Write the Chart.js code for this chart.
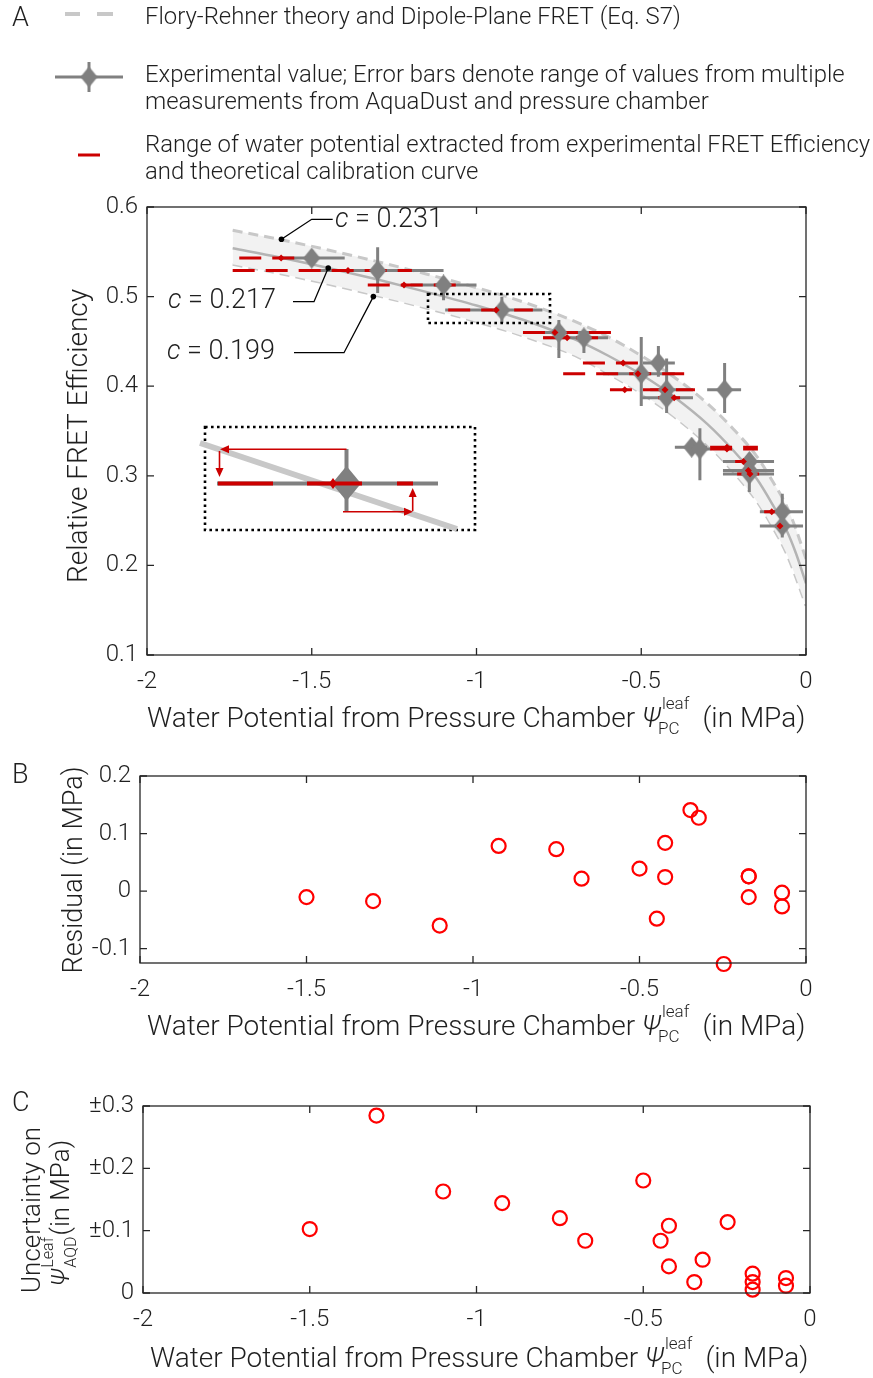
<!DOCTYPE html>
<html>
<head>
<meta charset="utf-8">
<script src="https://cdn.jsdelivr.net/npm/chart.js@4.4.1/dist/chart.umd.min.js"></script>
<style>
  body { margin: 0; background: #fff; width: 873px; height: 1378px; position: relative; overflow: hidden; }
  canvas { position: absolute; left: 0; top: 0; }
</style>
</head>
<body>
<canvas id="chartA" width="873" height="1378"></canvas>
<canvas id="chartB" width="873" height="1378"></canvas>
<canvas id="chartC" width="873" height="1378"></canvas>
<script>
// ---- data ----
const xTickVals = [-2, -1.5, -1, -0.5, 0];
const xTickLabels = ['-2', '-1.5', '-1', '-0.5', '0'];
const fretTickVals = [0.1, 0.2, 0.3, 0.4, 0.5, 0.6];
const fretTickLabels = ['0.1', '0.2', '0.3', '0.4', '0.5', '0.6'];
const resTickVals = [-0.1, 0, 0.1, 0.2];
const resTickLabels = ['-0.1', '0', '0.1', '0.2'];
const uncTickVals = [0, 0.1, 0.2, 0.3];
const uncTickLabels = ['0', '±0.1', '±0.2', '±0.3'];

// pressure chamber water potential (MPa), one entry per measurement
const psiPC = [-1.5, -1.3, -1.1, -0.923, -0.75, -0.674, -0.5, -0.448, -0.423, -0.423, -0.347, -0.322, -0.247, -0.172, -0.172, -0.172, -0.072, -0.072];
const fretExp = [0.543, 0.529, 0.513, 0.485, 0.460, 0.454, 0.414, 0.426, 0.396, 0.387, 0.332, 0.330, 0.396, 0.316, 0.306, 0.302, 0.260, 0.244];
const psiErrLo = [-1.6, -1.5, -1.2, -1.095, -0.85, -0.798, -0.616, -0.495, -0.473, -0.498, -0.398, -0.36, -0.300, -0.252, -0.252, -0.252, -0.14, -0.14];
const psiErrHi = [-1.4, -1.1, -1.0, -0.80, -0.65, -0.601, -0.398, -0.398, -0.343, -0.343, -0.30, -0.29, -0.197, -0.097, -0.097, -0.097, -0.009, -0.009];
const fretErrLo = [0.537, 0.504, 0.496, 0.4705, 0.4315, 0.437, 0.378, 0.4106, 0.370, 0.370, 0.325, 0.295, 0.370, 0.282, 0.282, 0.282, 0.231, 0.231];
const fretErrHi = [0.552, 0.555, 0.521, 0.4996, 0.474, 0.4625, 0.455, 0.4449, 0.431, 0.431, 0.338, 0.353, 0.426, 0.325, 0.325, 0.325, 0.280, 0.280];

// range of water potential extracted from FRET + calibration curve
const psiExtLo = [-1.72, -1.74, -1.33, -1.086, -0.859, -0.798, -0.737, -0.677, -0.595, -0.449, -0.291, -0.291, -0.595, -0.215, -0.191, -0.209, -0.127, -0.094];
const psiExtHi = [-1.505, -1.196, -1.05, -0.829, -0.589, -0.625, -0.361, -0.483, -0.337, -0.352, -0.146, -0.146, -0.337, -0.175, -0.155, -0.124, -0.058, -0.055];
const psiExt = [-1.593, -1.39, -1.22, -0.94, -0.762, -0.725, -0.51, -0.555, -0.428, -0.40, -0.24, -0.24, -0.55, -0.19, -0.175, -0.17, -0.104, -0.079];

// theory curves (c = 0.231 / 0.217 / 0.199)
const theoryX = [-1.74, -1.6, -1.45, -1.3, -1.15, -1.0, -0.85, -0.7, -0.6, -0.5, -0.4, -0.3, -0.22, -0.15, -0.1, -0.06, -0.03, 0];
const theoryHi = [0.574, 0.564, 0.552, 0.539, 0.525, 0.510, 0.493, 0.472, 0.455, 0.434, 0.410, 0.381, 0.352, 0.322, 0.293, 0.267, 0.240, 0.207];
const theoryMid = [0.554, 0.544, 0.532, 0.519, 0.505, 0.490, 0.473, 0.452, 0.434, 0.413, 0.388, 0.358, 0.328, 0.297, 0.267, 0.240, 0.213, 0.180];
const theoryLo = [0.536, 0.526, 0.514, 0.501, 0.487, 0.472, 0.455, 0.434, 0.414, 0.392, 0.366, 0.335, 0.304, 0.272, 0.242, 0.214, 0.186, 0.155];

const residual = [-0.0105, -0.0175, -0.060, 0.0785, 0.0728, 0.0216, 0.039, -0.048, 0.0838, 0.0244, 0.1408, 0.1274, -0.1267, 0.0257, 0.0257, -0.0105, -0.0028, -0.0267];
const uncertainty = [0.1026, 0.2846, 0.1628, 0.1442, 0.120, 0.0838, 0.1805, 0.0838, 0.1079, 0.0427, 0.0176, 0.0534, 0.1138, 0.031, 0.0176, 0.0053, 0.024, 0.0117];

// ---- styling ----
const FF = "Roboto, 'Liberation Sans', Arial, sans-serif";
const TXT = '#1f1f1f';
const GRAY = '#808080';
const DARKRED = '#cc0000';
Chart.defaults.font.family = FF;
Chart.defaults.font.weight = 300;
Chart.defaults.color = TXT;
Chart.defaults.animation = false;

function diamond(w, h, color) {
  const c = document.createElement('canvas');
  c.width = w; c.height = h;
  const g = c.getContext('2d');
  g.fillStyle = color;
  g.beginPath();
  g.moveTo(w / 2, 0); g.lineTo(w, h / 2); g.lineTo(w / 2, h); g.lineTo(0, h / 2);
  g.closePath(); g.fill();
  return c;
}
const diamondImg = diamond(17, 21, GRAY);

function xy(xs, ys) { return xs.map((x, i) => ({ x: x, y: ys[i] })); }

const hBars = [], vBars = [], extBars = [];
psiPC.forEach((x, i) => {
  hBars.push({ x: psiErrLo[i], y: fretExp[i] }, { x: psiErrHi[i], y: fretExp[i] }, { x: psiErrHi[i], y: null });
  vBars.push({ x: x, y: fretErrLo[i] }, { x: x, y: fretErrHi[i] }, { x: x, y: null });
  extBars.push({ x: psiExtLo[i], y: fretExp[i] }, { x: psiExtHi[i], y: fretExp[i] }, { x: psiExtHi[i], y: null });
});

// fixed plot boxes (page pixels)
function boxLayout(left, top, right, bottom) {
  return {
    padding: { left: 0, top: top, right: 873 - right, bottom: 0 },
    yW: left, xH: 1378 - bottom
  };
}

function xScale(L) {
  return {
    type: 'linear', min: -2, max: 0,
    afterBuildTicks: s => { s.ticks = xTickVals.map(v => ({ value: v })); },
    afterFit: s => { s.height = L.xH; },
    grid: { display: false, drawTicks: false },
    border: { display: false },
    ticks: { font: { size: 24 }, padding: 13, color: TXT, maxRotation: 0,
             callback: (v, i) => xTickLabels[i] }
  };
}
function yScale(L, min, max, vals, labels) {
  return {
    type: 'linear', min: min, max: max,
    afterBuildTicks: s => { s.ticks = vals.map(v => ({ value: v })); },
    afterFit: s => { s.width = L.yW; },
    grid: { display: false, drawTicks: false },
    border: { display: false },
    ticks: { font: { size: 24 }, padding: 9, color: TXT, callback: (v, i) => labels[i] }
  };
}

// frame with inward ticks on all four sides
const framePlugin = {
  id: 'frame',
  afterDraw(chart) {
    const { ctx, chartArea: a, scales } = chart;
    ctx.save();
    ctx.strokeStyle = '#262626';
    ctx.lineWidth = 1.3;
    ctx.strokeRect(a.left, a.top, a.right - a.left, a.bottom - a.top);
    const tl = 7;
    ctx.beginPath();
    scales.x.ticks.forEach(t => {
      const px = scales.x.getPixelForValue(t.value);
      ctx.moveTo(px, a.bottom); ctx.lineTo(px, a.bottom - tl);
      ctx.moveTo(px, a.top); ctx.lineTo(px, a.top + tl);
    });
    scales.y.ticks.forEach(t => {
      const py = scales.y.getPixelForValue(t.value);
      ctx.moveTo(a.left, py); ctx.lineTo(a.left + tl, py);
      ctx.moveTo(a.right, py); ctx.lineTo(a.right - tl, py);
    });
    ctx.stroke();
    ctx.restore();
  }
};

function font(size, italic) { return (italic ? 'italic ' : '') + '300 ' + size + 'px ' + FF; }

// rich text: parts {t, size, italic, dy, dx, adv, gap}
function rich(ctx, parts, x, y, align) {
  let total = 0;
  const widths = parts.map(p => { ctx.font = font(p.size, p.italic); return ctx.measureText(p.t).width; });
  parts.forEach((p, i) => { if (p.adv !== false) total += widths[i] + (p.gap || 0); });
  let cx = align === 'center' ? x - total / 2 : x;
  ctx.textBaseline = 'middle';
  ctx.textAlign = 'left';
  parts.forEach((p, i) => {
    ctx.font = font(p.size, p.italic);
    ctx.fillText(p.t, cx + (p.dx || 0), y + (p.dy || 0));
    if (p.adv !== false) cx += widths[i] + (p.gap || 0);
  });
}

function xTitle(ctx, x, y) {
  ctx.fillStyle = TXT;
  rich(ctx, [
    { t: 'Water Potential from Pressure Chamber ', size: 28 },
    { t: 'Ψ', size: 28, italic: true, gap: 1 },
    { t: 'leaf', size: 17, dy: -15, adv: false },
    { t: 'PC', size: 17, dy: 10, dx: -4, gap: 19 },
    { t: '(in MPa)', size: 28 }
  ], x, y, 'left');
}

function line(ctx, pts, color, w, dash) {
  ctx.save();
  ctx.strokeStyle = color; ctx.lineWidth = w;
  ctx.setLineDash(dash || []);
  ctx.beginPath();
  pts.forEach((p, i) => i ? ctx.lineTo(p[0], p[1]) : ctx.moveTo(p[0], p[1]));
  ctx.stroke();
  ctx.restore();
}
function arrowHead(ctx, x, y, dir, color) {
  const L = 9, W = 4;
  ctx.save(); ctx.fillStyle = color; ctx.beginPath();
  if (dir === 'left') { ctx.moveTo(x, y); ctx.lineTo(x + L, y - W); ctx.lineTo(x + L, y + W); }
  if (dir === 'right') { ctx.moveTo(x, y); ctx.lineTo(x - L, y - W); ctx.lineTo(x - L, y + W); }
  if (dir === 'down') { ctx.moveTo(x, y); ctx.lineTo(x - W, y - L); ctx.lineTo(x + W, y - L); }
  if (dir === 'up') { ctx.moveTo(x, y); ctx.lineTo(x - W, y + L); ctx.lineTo(x + W, y + L); }
  ctx.closePath(); ctx.fill(); ctx.restore();
}

// legend, labels and inset of panel A
const decorA = {
  id: 'decorA',
  afterDraw(chart) {
    const { ctx, scales } = chart;
    const sx = scales.x, sy = scales.y;
    ctx.save();
    ctx.fillStyle = TXT;
    ctx.textBaseline = 'middle';
    ctx.font = font(27);
    ctx.fillText('A', 12, 19);

    // legend
    line(ctx, [[65, 14], [80, 14]], '#c8c8c8', 4);
    line(ctx, [[97, 14], [113, 14]], '#c8c8c8', 4);
    line(ctx, [[55, 77], [123, 77]], GRAY, 3);
    line(ctx, [[89, 62], [89, 92]], GRAY, 3);
    ctx.drawImage(diamondImg, 89 - 8.5, 77 - 10.5);
    line(ctx, [[78, 155], [100, 155]], DARKRED, 3);
    ctx.fillStyle = TXT;
    ctx.font = font(23.9);
    ctx.fillText('Flory-Rehner theory and Dipole-Plane FRET (Eq. S7)', 145, 18);
    ctx.fillText('Experimental value; Error bars denote range of values from multiple', 145, 76);
    ctx.fillText('measurements from AquaDust and pressure chamber', 145, 103);
    ctx.fillText('Range of water potential extracted from experimental FRET Efficiency', 145, 146);
    ctx.fillText('and theoretical calibration curve', 145, 173);

    // c labels with leader lines
    const d231 = [sx.getPixelForValue(-1.592), sy.getPixelForValue(0.564)];
    const d217 = [sx.getPixelForValue(-1.45), sy.getPixelForValue(0.532)];
    const d199 = [sx.getPixelForValue(-1.313), sy.getPixelForValue(0.5)];
    line(ctx, [d231, [311.7, 219.3], [332.7, 219.3]], '#000', 1.3);
    line(ctx, [[293, 301.7], [314, 301.7], d217], '#000', 1.3);
    line(ctx, [[294, 352.7], [344, 352.7], d199], '#000', 1.3);
    ctx.fillStyle = '#000';
    [d231, d217, d199].forEach(d => { ctx.beginPath(); ctx.arc(d[0], d[1], 2.8, 0, Math.PI * 2); ctx.fill(); });
    ctx.fillStyle = TXT;
    rich(ctx, [{ t: 'c', size: 27, italic: true }, { t: ' = 0.231', size: 27 }], 335, 220, 'left');
    rich(ctx, [{ t: 'c', size: 27, italic: true }, { t: ' = 0.217', size: 27 }], 168, 301, 'left');
    rich(ctx, [{ t: 'c', size: 27, italic: true }, { t: ' = 0.199', size: 27 }], 167, 352, 'left');

    // dotted box around the highlighted point and the zoomed inset
    ctx.save();
    ctx.strokeStyle = '#000'; ctx.lineWidth = 2.6; ctx.setLineDash([2.6, 3.4]);
    ctx.strokeRect(428, 294, 122, 29);
    ctx.strokeRect(205, 427, 270, 103);
    ctx.restore();

    line(ctx, [[200, 443], [457, 529]], '#c8c8c8', 6);
    line(ctx, [[217, 483.5], [438, 483.5]], GRAY, 4);
    line(ctx, [[346.5, 449], [346.5, 512]], GRAY, 4);
    ctx.fillStyle = GRAY;
    ctx.beginPath();
    ctx.moveTo(346.5, 466); ctx.lineTo(361, 483.5); ctx.lineTo(346.5, 501); ctx.lineTo(332, 483.5);
    ctx.closePath(); ctx.fill();
    line(ctx, [[218, 483.5], [273, 483.5]], DARKRED, 4);
    line(ctx, [[307, 483.5], [362, 483.5]], DARKRED, 4);
    line(ctx, [[397, 483.5], [413, 483.5]], DARKRED, 4);
    ctx.fillStyle = DARKRED;
    ctx.beginPath();
    ctx.moveTo(333, 478); ctx.lineTo(337, 483.5); ctx.lineTo(333, 489); ctx.lineTo(329, 483.5);
    ctx.closePath(); ctx.fill();
    line(ctx, [[346.5, 449.3], [226, 449.3]], DARKRED, 1.6);
    arrowHead(ctx, 220, 449.3, 'left', DARKRED);
    line(ctx, [[219.5, 451], [219.5, 470]], DARKRED, 1.6);
    arrowHead(ctx, 219.5, 477, 'down', DARKRED);
    line(ctx, [[343, 511.7], [406, 511.7]], DARKRED, 1.6);
    arrowHead(ctx, 413, 511.7, 'right', DARKRED);
    line(ctx, [[412.7, 511], [412.7, 495]], DARKRED, 1.6);
    arrowHead(ctx, 412.7, 488, 'up', DARKRED);

    // axis titles
    ctx.fillStyle = TXT;
    xTitle(ctx, 147, 720);
    ctx.save();
    ctx.translate(80, 436); ctx.rotate(-Math.PI / 2);
    ctx.textAlign = 'center'; ctx.textBaseline = 'middle';
    ctx.font = font(28);
    ctx.fillText('Relative FRET Efficiency', 0, 0);
    ctx.restore();
    ctx.restore();
  }
};

const LA = boxLayout(147, 207, 806, 655);
new Chart(document.getElementById('chartA'), {
  type: 'scatter',
  data: {
    datasets: [
      { type: 'line', data: xy(theoryX, theoryHi), borderColor: '#c8c8c8', borderWidth: 3, borderDash: [10, 6],
        pointRadius: 0, fill: '+1', backgroundColor: '#f2f2f2', cubicInterpolationMode: 'monotone', order: 10 },
      { type: 'line', data: xy(theoryX, theoryLo), borderColor: '#c8c8c8', borderWidth: 3, borderDash: [10, 6],
        pointRadius: 0, fill: false, cubicInterpolationMode: 'monotone', order: 10 },
      { type: 'line', data: xy(theoryX, theoryMid), borderColor: '#b4b4b4', borderWidth: 2.5,
        pointRadius: 0, fill: false, cubicInterpolationMode: 'monotone', order: 9 },
      { type: 'line', data: hBars, borderColor: GRAY, borderWidth: 3, pointRadius: 0, spanGaps: false, order: 7 },
      { type: 'line', data: vBars, borderColor: GRAY, borderWidth: 3, pointRadius: 0, spanGaps: false, order: 7 },
      { type: 'line', data: extBars, borderColor: DARKRED, borderWidth: 3, borderDash: [22, 11],
        pointRadius: 0, spanGaps: false, order: 6 },
      { data: xy(psiPC, fretExp), pointStyle: diamondImg, pointRadius: 10, order: 5 },
      { data: xy(psiExt, fretExp), pointStyle: 'rectRot', pointRadius: 3.5, backgroundColor: DARKRED,
        borderColor: DARKRED, borderWidth: 0, order: 4 }
    ]
  },
  options: {
    responsive: false,
    layout: { padding: LA.padding },
    plugins: { legend: { display: false }, tooltip: { enabled: false } },
    scales: {
      x: xScale(LA),
      y: yScale(LA, 0.1, 0.6, fretTickVals, fretTickLabels)
    }
  },
  plugins: [framePlugin, decorA]
});

// ---- panel B ----
const decorB = {
  id: 'decorB',
  afterDraw(chart) {
    const { ctx } = chart;
    ctx.save();
    ctx.fillStyle = TXT;
    ctx.textBaseline = 'middle';
    ctx.font = font(27);
    ctx.fillText('B', 12, 776);
    xTitle(ctx, 147, 1028);
    ctx.translate(75, 870); ctx.rotate(-Math.PI / 2);
    ctx.textAlign = 'center';
    ctx.font = font(27);
    ctx.fillText('Residual (in MPa)', 0, 0);
    ctx.restore();
  }
};
const LB = boxLayout(140, 776, 806, 963);
new Chart(document.getElementById('chartB'), {
  type: 'scatter',
  data: {
    datasets: [{ data: xy(psiPC, residual), pointStyle: 'circle', pointRadius: 7, borderWidth: 2.2,
                 borderColor: '#ff0000', backgroundColor: 'rgba(0,0,0,0)', clip: false }]
  },
  options: {
    responsive: false,
    layout: { padding: LB.padding },
    plugins: { legend: { display: false }, tooltip: { enabled: false } },
    scales: {
      x: xScale(LB),
      y: yScale(LB, -0.125, 0.2, resTickVals, resTickLabels)
    }
  },
  plugins: [framePlugin, decorB]
});

// ---- panel C ----
const decorC = {
  id: 'decorC',
  afterDraw(chart) {
    const { ctx } = chart;
    ctx.save();
    ctx.fillStyle = TXT;
    ctx.textBaseline = 'middle';
    ctx.font = font(27);
    ctx.fillText('C', 12, 1104);
    xTitle(ctx, 150, 1360);
    ctx.save();
    ctx.translate(33, 1210); ctx.rotate(-Math.PI / 2);
    ctx.textAlign = 'center';
    ctx.font = font(26);
    ctx.fillText('Uncertainty on', 0, 0);
    ctx.restore();
    ctx.save();
    ctx.translate(62, 1213); ctx.rotate(-Math.PI / 2);
    rich(ctx, [
      { t: 'Ψ', size: 26, italic: true, gap: 1 },
      { t: 'Leaf', size: 16, dy: -13, adv: false },
      { t: 'AQD', size: 16, dy: 10, gap: 1 },
      { t: '(in MPa)', size: 26 }
    ], 0, 0, 'center');
    ctx.restore();
    ctx.restore();
  }
};
const LC = boxLayout(143, 1106, 810, 1293);
new Chart(document.getElementById('chartC'), {
  type: 'scatter',
  data: {
    datasets: [{ data: xy(psiPC, uncertainty), pointStyle: 'circle', pointRadius: 7, borderWidth: 2.2,
                 borderColor: '#ff0000', backgroundColor: 'rgba(0,0,0,0)', clip: false }]
  },
  options: {
    responsive: false,
    layout: { padding: LC.padding },
    plugins: { legend: { display: false }, tooltip: { enabled: false } },
    scales: {
      x: xScale(LC),
      y: yScale(LC, 0, 0.3, uncTickVals, uncTickLabels)
    }
  },
  plugins: [framePlugin, decorC]
});
</script>
</body>
</html>
